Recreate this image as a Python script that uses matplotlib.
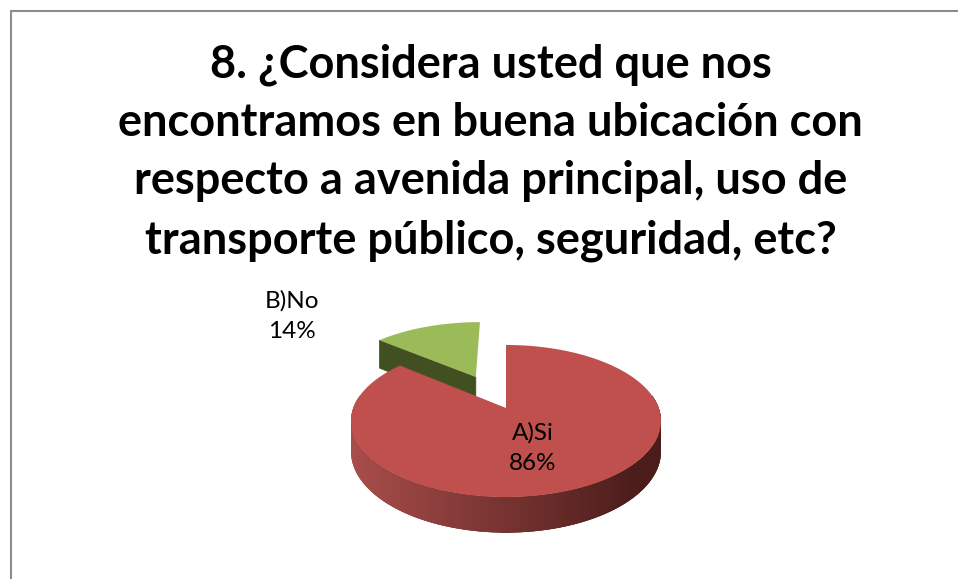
import numpy as np
import matplotlib
matplotlib.use("Agg")
import matplotlib.pyplot as plt
from matplotlib.colors import to_rgb

TITLE_LINES = [
    "8. ¿Considera usted que nos",
    "encontramos en buena ubicación con",
    "respecto a avenida principal, uso de",
    "transporte público, seguridad, etc?",
]
labels = ["A)Si", "B)No"]
values = [86, 14]
explode = [0.0, 0.5]
top_colors = ["#C0504D", "#9BBB59"]
side_green = "#424F21"
side_left = "#A84D4A"
side_right = "#4A1C1A"

# pie geometry in pixels, simple perspective on the unit circle
CX, CY = 506, 408
KX, KY, P = 152.7, 73.8, 0.171
DEPTH = 29.5


def project(u, v):
    w = 1 + P * v
    return CX + KX * u / w, CY - KY * v / w, DEPTH / w


plt.rcParams["font.family"] = ["Lato", "DejaVu Sans"]
fig = plt.figure(figsize=(9.58, 5.79), dpi=100)
ax = fig.add_axes([0, 0, 1, 1])
ax.set_xlim(0, 958)
ax.set_ylim(579, 0)
ax.axis("off")

# frame, only top and left show in the crop
ax.plot([11, 11, 958], [579, 11, 11], color="#8C8C8C", lw=1.5, solid_joinstyle="miter")

total = sum(values)
sweeps = [np.radians(360 * val / total) for val in values]
red_start = np.pi / 2
red_end = red_start - sweeps[0]
green_end = red_end - sweeps[1]

# green slice goes first, red sits over it
mid = (red_end + green_end) / 2
dx, dy = explode[1] * np.cos(mid), explode[1] * np.sin(mid)
t = np.linspace(red_end, green_end, 60)
gx, gy, gd = project(np.r_[0, np.cos(t)] + dx, np.r_[0, np.sin(t)] + dy)
# cut face from the apex to the left corner
ax.fill(
    [gx[0], gx[1], gx[1], gx[0]],
    [gy[0], gy[1], gy[1] + gd[1] + 3, gy[0] + gd[0] + 3],
    color=side_green,
    lw=0.5,
)
ax.fill(gx, gy, color=top_colors[1], lw=0)

# red side with the dark gradient, quads overlap so no seams show
t = np.linspace(np.radians(170), np.radians(370), 240)
sx, sy, sd = project(np.cos(t), np.sin(t))
c0, c1 = np.array(to_rgb(side_left)), np.array(to_rgb(side_right))
for i in range(len(t) - 1):
    j = min(i + 3, len(t) - 1)
    frac = np.clip((sx[i] - 352) / (640 - 352), 0, 1)
    colour = c0 + (c1 - c0) * frac
    ax.fill(
        [sx[i], sx[j], sx[j], sx[i]],
        [sy[i], sy[j], sy[j] + sd[j], sy[i] + sd[i]],
        color=colour,
        lw=0,
    )

t = np.linspace(red_start, red_end, 300)
rx, ry, _ = project(np.r_[0, np.cos(t)], np.r_[0, np.sin(t)])
ax.fill(rx, ry, color=top_colors[0], lw=0)

for i, line in enumerate(TITLE_LINES):
    ax.text(490.5, 77 + i * 58.7, line, ha="center", va="baseline", fontsize=32.5,
            fontweight="bold", color="black")

ax.text(533, 448, f"{labels[0]}\n{values[0]}%", ha="center", va="center",
        fontsize=17.5, linespacing=1.55, color="black")
ax.text(292, 316, f"{labels[1]}\n{values[1]}%", ha="center", va="center",
        fontsize=17.5, linespacing=1.55, color="black")

fig.savefig("out.png", dpi=100)
